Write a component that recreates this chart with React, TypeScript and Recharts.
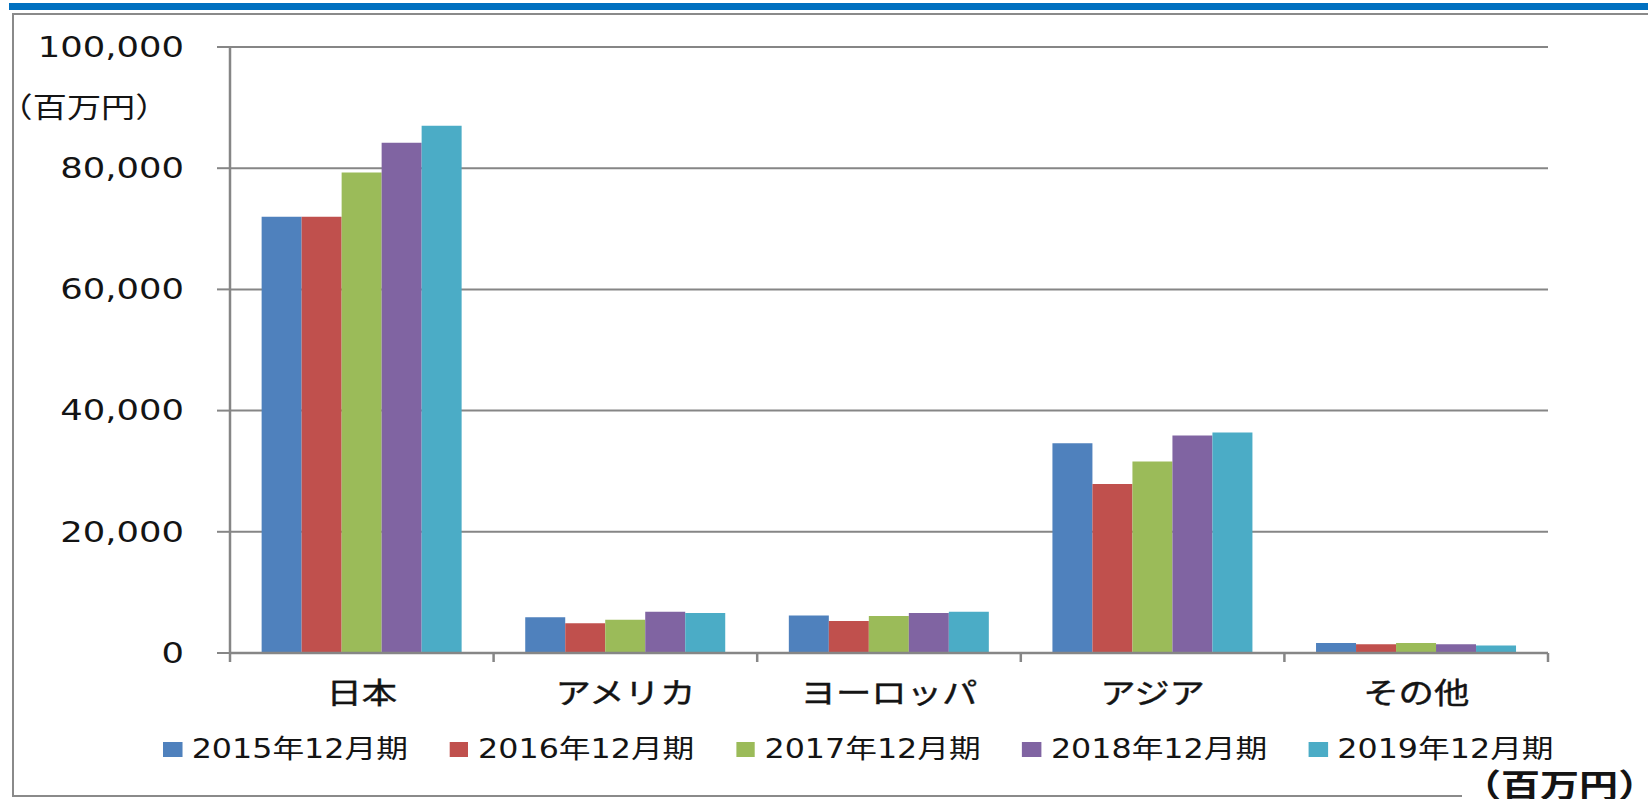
import { Bar, BarChart, CartesianGrid, Legend, XAxis, YAxis } from "recharts";

const regions = ["日本", "アメリカ", "ヨーロッパ", "アジア", "その他"];
const fy2015 = [72000, 5900, 6200, 34600, 1650];
const fy2016 = [72000, 4900, 5300, 27900, 1450];
const fy2017 = [79300, 5500, 6100, 31600, 1650];
const fy2018 = [84200, 6800, 6600, 35900, 1450];
const fy2019 = [87000, 6600, 6800, 36400, 1250];
const seriesNames = ["2015年12月期", "2016年12月期", "2017年12月期", "2018年12月期", "2019年12月期"];
const yTicks = [0, 20000, 40000, 60000, 80000, 100000];
const unitLabel = "（百万円）";

const seriesKeys = ["s2015", "s2016", "s2017", "s2018", "s2019"];
const seriesColors = ["#4F81BD", "#C0504D", "#9BBB59", "#8064A2", "#4BACC6"];

const rows = regions.map((region, i) => ({
  region,
  s2015: fy2015[i],
  s2016: fy2016[i],
  s2017: fy2017[i],
  s2018: fy2018[i],
  s2019: fy2019[i],
}));

const W = 1648;
const H = 799;
const PLOT_LEFT = 230;
const PLOT_RIGHT = 1548;
const PLOT_TOP = 47;
const PLOT_BOTTOM = 653;
const X_AXIS_H = 60;
const BAND = (PLOT_RIGHT - PLOT_LEFT) / regions.length;
// the source picture is stretched sideways, text included
const STRETCH = 1.22;
const AXIS_GRAY = "#868686";
const TEXT = "#141414";
const JP_FONT = "'Noto Sans CJK JP', sans-serif";
const NUM_FONT = "'DejaVu Sans', 'Noto Sans CJK JP', sans-serif";

function YTick(props: any) {
  const { x, y, payload } = props;
  return (
    <text
      transform={`translate(${x},${y}) scale(${STRETCH},1)`}
      textAnchor="end"
      dominantBaseline="central"
      fontFamily={NUM_FONT}
      fontSize={29}
      fill={TEXT}
    >
      {Number(payload.value).toLocaleString("en-US")}
    </text>
  );
}

function XTick(props: any) {
  const { x, payload } = props;
  const half = BAND / 2;
  const isLast = payload.value === regions[regions.length - 1];
  return (
    <g>
      <line x1={x - half} x2={x - half} y1={PLOT_BOTTOM} y2={PLOT_BOTTOM + 9} stroke={AXIS_GRAY} strokeWidth={2.5} />
      {isLast && (
        <line x1={x + half} x2={x + half} y1={PLOT_BOTTOM} y2={PLOT_BOTTOM + 9} stroke={AXIS_GRAY} strokeWidth={2.5} />
      )}
      <text
        transform={`translate(${x},${PLOT_BOTTOM + 38}) scale(${STRETCH},1)`}
        textAnchor="middle"
        dominantBaseline="central"
        fontFamily={JP_FONT}
        fontSize={29}
        fill={TEXT}
        stroke={TEXT}
        strokeWidth={0.4}
      >
        {payload.value}
      </text>
    </g>
  );
}

function LegendContent(props: any) {
  const items = props.payload || [];
  return (
    <div style={{ display: "flex", transform: `scaleX(${STRETCH})`, transformOrigin: "0 50%" }}>
      {items.map((item: any) => (
        <div key={item.value} style={{ display: "flex", alignItems: "center", marginRight: 34 }}>
          <span style={{ display: "inline-block", width: 15.5, height: 15, background: item.color, marginRight: 8 }} />
          <span style={{ fontFamily: NUM_FONT, fontSize: 26, lineHeight: "30px", color: TEXT, whiteSpace: "nowrap" }}>
            {item.value}
          </span>
        </div>
      ))}
    </div>
  );
}

export default function App() {
  return (
    <div style={{ position: "fixed", left: 0, top: 0, width: W, height: H, overflow: "hidden", background: "#fff" }}>
      <div style={{ position: "absolute", left: 9, top: 3, width: W, height: 6.5, background: "#0070C0" }} />
      <div
        style={{
          position: "absolute",
          left: 12,
          top: 13,
          width: 1700,
          height: 780,
          border: "2px solid #8a8a8a",
        }}
      />
      <div style={{ position: "absolute", left: 0, top: 0 }}>
        <BarChart
          width={W}
          height={H}
          data={rows}
          margin={{ top: PLOT_TOP, right: W - PLOT_RIGHT, bottom: H - PLOT_BOTTOM - X_AXIS_H, left: 0 }}
          barCategoryGap="12%"
          barGap={0}
        >
          <CartesianGrid vertical={false} stroke={AXIS_GRAY} strokeWidth={2} />
          <XAxis
            dataKey="region"
            height={X_AXIS_H}
            tickLine={false}
            axisLine={{ stroke: AXIS_GRAY, strokeWidth: 2.5 }}
            tick={<XTick />}
            interval={0}
          />
          <YAxis
            width={PLOT_LEFT}
            domain={[0, 100000]}
            ticks={yTicks}
            tickSize={13}
            tickMargin={33}
            tickLine={{ stroke: AXIS_GRAY, strokeWidth: 2 }}
            axisLine={{ stroke: AXIS_GRAY, strokeWidth: 2.5 }}
            tick={<YTick />}
          />
          <Legend
            layout="horizontal"
            verticalAlign="middle"
            align="center"
            content={<LegendContent />}
            wrapperStyle={{ left: 163, top: 734, width: 1450 }}
          />
          {seriesKeys.map((key, i) => (
            <Bar key={key} dataKey={key} name={seriesNames[i]} fill={seriesColors[i]} isAnimationActive={false} />
          ))}
        </BarChart>
      </div>
      <div
        style={{
          position: "absolute",
          left: 84,
          top: 106,
          transform: `translate(-50%,-50%) scaleX(${STRETCH})`,
          fontFamily: JP_FONT,
          fontSize: 28,
          lineHeight: 1,
          color: TEXT,
          whiteSpace: "nowrap",
        }}
      >
        {unitLabel}
      </div>
      <div
        style={{
          position: "absolute",
          left: 1462,
          top: 767,
          transform: `scaleX(${STRETCH})`,
          transformOrigin: "0 0",
          fontFamily: JP_FONT,
          fontSize: 32,
          fontWeight: 700,
          lineHeight: 1,
          color: TEXT,
          background: "#fff",
          whiteSpace: "nowrap",
        }}
      >
        {unitLabel}
      </div>
    </div>
  );
}
